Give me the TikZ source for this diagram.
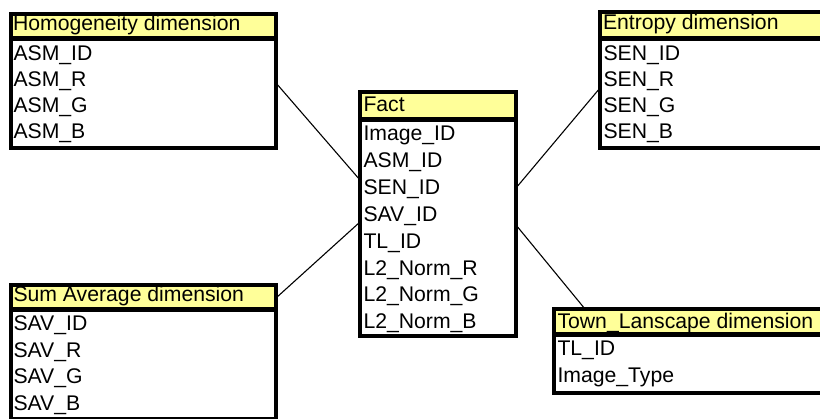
\documentclass[tikz,border=0pt]{standalone}
\usepackage{fontspec}
\setmainfont{Liberation Sans}
\usetikzlibrary{backgrounds,calc}
\definecolor{hdryellow}{RGB}{255,255,153}
\newcommand\mktable[6]{% name, x1, y1, x2, y2, separator y
  \node[box, minimum width={#4-#2-4}, minimum height={#5-#3-4}] (#1) at (#2+2,#3+2) {};
  \fill[hdryellow] (#2+4,#3+4) rectangle (#4-4,#6-2.5);
  \draw[sepline] (#2,#6) -- (#4,#6);
}
\begin{document}
\begin{tikzpicture}[x=1pt,y=-1pt,
  box/.style={draw=black, line width=4pt, fill=white, inner sep=0pt, outer sep=0pt, anchor=north west},
  lbl/.style={anchor=base west, inner sep=0pt, outer sep=0pt, font=\fontsize{21.2}{25}\selectfont},
  conn/.style={line width=1.1pt, draw=black},
  sepline/.style={line width=5pt, draw=black}]
\useasboundingbox (0,0) rectangle (820,419);
\clip (0,0) rectangle (820,419);

% tables
\mktable{H}{9}{12}{278}{150}{38.5}
\mktable{E}{598}{10}{842}{150}{38.5}
\mktable{F}{358}{90}{518}{338}{120}
\mktable{S}{9}{283}{278}{421}{309.5}
\mktable{T}{552}{307}{842}{395}{334.5}

% Homogeneity
\node[lbl] (Hh) at (13,31) {Homogeneity dimension};
\node[lbl] (H1) at (13.5,60.3) {ASM\_ID};
\node[lbl] (H2) at (13.5,86.5) {ASM\_R};
\node[lbl] (H3) at (13.5,112.7) {ASM\_G};
\node[lbl] (H4) at (13.5,138.9) {ASM\_B};

% Entropy
\node[lbl] (Eh) at (603,30) {Entropy dimension};
\node[lbl] (E1) at (603.5,60.3) {SEN\_ID};
\node[lbl] (E2) at (603.5,86.5) {SEN\_R};
\node[lbl] (E3) at (603.5,112.7) {SEN\_G};
\node[lbl] (E4) at (603.5,138.9) {SEN\_B};

% Fact
\node[lbl] (Fh) at (363.5,112) {Fact};
\node[lbl] (F1) at (363.5,140.8) {Image\_ID};
\node[lbl] (F2) at (363.5,167.7) {ASM\_ID};
\node[lbl] (F3) at (363.5,194.5) {SEN\_ID};
\node[lbl] (F4) at (363.5,221.4) {SAV\_ID};
\node[lbl] (F5) at (363.5,248.2) {TL\_ID};
\node[lbl] (F6) at (363.5,275.1) {L2\_Norm\_R};
\node[lbl] (F7) at (363.5,301.9) {L2\_Norm\_G};
\node[lbl] (F8) at (363.5,328.8) {L2\_Norm\_B};

% Sum Average
\node[lbl] (Sh) at (13.5,302) {Sum Average dimension};
\node[lbl] (S1) at (13.5,331) {SAV\_ID};
\node[lbl] (S2) at (13.5,357.5) {SAV\_R};
\node[lbl] (S3) at (13.5,384) {SAV\_G};
\node[lbl] (S4) at (13.5,410.5) {SAV\_B};

% Town_Lanscape
\node[lbl] (Th) at (557.5,328.8) {Town\_Lanscape dimension};
\node[lbl] (T1) at (557.5,355.5) {TL\_ID};
\node[lbl] (T2) at (557.5,382.2) {Image\_Type};

% connectors
\begin{scope}[on background layer]
  \draw[conn] ([yshift=-2pt]H.east) -- ([yshift=34pt]F.west);
  \draw[conn] ([yshift=26pt]F.east) -- ([yshift=-8pt]E.west);
  \draw[conn] ([yshift=-13pt]S.north east) -- ([yshift=-8pt]F.west);
  \draw[conn] ([yshift=-11pt]F.east) -- ([xshift=31pt]T.north west);
\end{scope}
\end{tikzpicture}
\end{document}
